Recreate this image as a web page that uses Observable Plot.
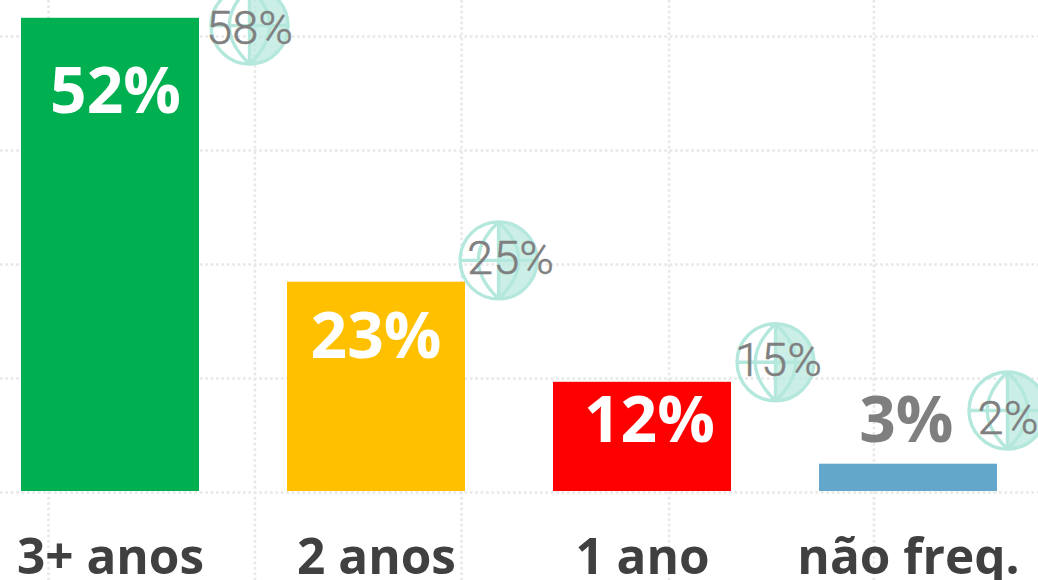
<!DOCTYPE html>
<html><head><meta charset="utf-8">
<script src="https://cdn.jsdelivr.net/npm/d3@7"></script>
<script src="https://cdn.jsdelivr.net/npm/@observablehq/plot@0.6"></script>
<style>html,body{margin:0;padding:0;background:#fff;overflow:hidden}svg{display:block}</style>
</head><body><div id="chart"></div>
<script>
const categories = ["3+ anos","2 anos","1 ano","não freq."];
const colors = ["#00b050","#ffc000","#ff0000","#63a8cb"];
const values = [52,23,12,3];
const valueLabels = ["52%","23%","12%","3%"];
const labelColors = ["#fff","#fff","#fff","#7f7f7f"];
const labelX = [0.0188,0.998,2.026,2.992];
const labelY = [43.8,16.87,7.64,7.64];
const worldLabels = ["58%","25%","15%","2%"];
const globeX = [0.5226,1.459,2.5,3.372];
const globeY = [51.2,25.4,14.2,8.9];
const worldX = [0.5226,1.504,2.511,3.374];
const worldY = [50.8,25.56,14.3,7.98];
const gridY = [-0.11,12.42,24.95,37.47,50];
const gridX = [-0.233,0.543,1.32,2.1,2.87];
const idx = d3.range(categories.length);

const radius = size => Math.sqrt(size/Math.PI);
const globeSymbol = {draw(ctx,size){
  const r = radius(size);
  ctx.moveTo(r,0); ctx.arc(0,0,r,0,2*Math.PI);
  ctx.moveTo(0,-r); ctx.lineTo(0,r);
  ctx.moveTo(-r,0); ctx.lineTo(r,0);
  ctx.moveTo(0,-r); ctx.quadraticCurveTo(-r*1.05,0,0,r);
  ctx.moveTo(0,-r); ctx.quadraticCurveTo(r*1.05,0,0,r);
}};
const capSymbol = {draw(ctx,size){
  const r = radius(size);
  ctx.moveTo(0,-r); ctx.arc(0,0,r,-Math.PI/2,Math.PI/2); ctx.closePath();
}};

const chart = Plot.plot({
  width:1038, height:580, margin:0,
  style:{background:"#fff"},
  x:{domain:[-0.4135,3.4887], range:[0,1038], axis:null},
  y:{domain:[0,53.956], range:[491,0], axis:null},
  r:{type:"identity"},
  marks:[
    Plot.ruleY(gridY,{stroke:"#e8e8e8",strokeWidth:2.6,strokeDasharray:"2.7 2.7"}),
    Plot.ruleX(gridX,{stroke:"#e8e8e8",strokeWidth:2.6,strokeDasharray:"2.7 2.7"}),
    Plot.rectY(idx,{x1:i=>i-0.3346,x2:i=>i+0.3346,y1:0,y2:i=>values[i],fill:i=>colors[i]}),
    Plot.dot(idx,{x:i=>globeX[i],y:i=>globeY[i],symbol:()=>capSymbol,r:39,fill:"#b5e8dd",fillOpacity:0.7,stroke:"none"}),
    Plot.dot(idx,{x:i=>globeX[i],y:i=>globeY[i],symbol:()=>globeSymbol,r:38.5,fill:"none",stroke:"#b5e8dd",strokeWidth:3.4}),
    Plot.text(idx,{x:i=>labelX[i],y:i=>labelY[i],text:i=>valueLabels[i],fill:i=>labelColors[i],fontSize:64,fontWeight:700,fontFamily:"'Open Sans'"}),
    Plot.text(idx,{x:i=>worldX[i],y:i=>worldY[i],text:i=>worldLabels[i],fill:"#7f7f7f",fontSize:47,fontWeight:300,fontFamily:"Roboto",stroke:"#7f7f7f",strokeWidth:0.5}),
    Plot.text(idx,{x:i=>i,y:-7.3,text:i=>categories[i],fill:"#404040",fontSize:49.5,fontWeight:700,fontFamily:"'Open Sans'"})
  ]
});
document.getElementById("chart").appendChild(chart);
</script></body></html>
